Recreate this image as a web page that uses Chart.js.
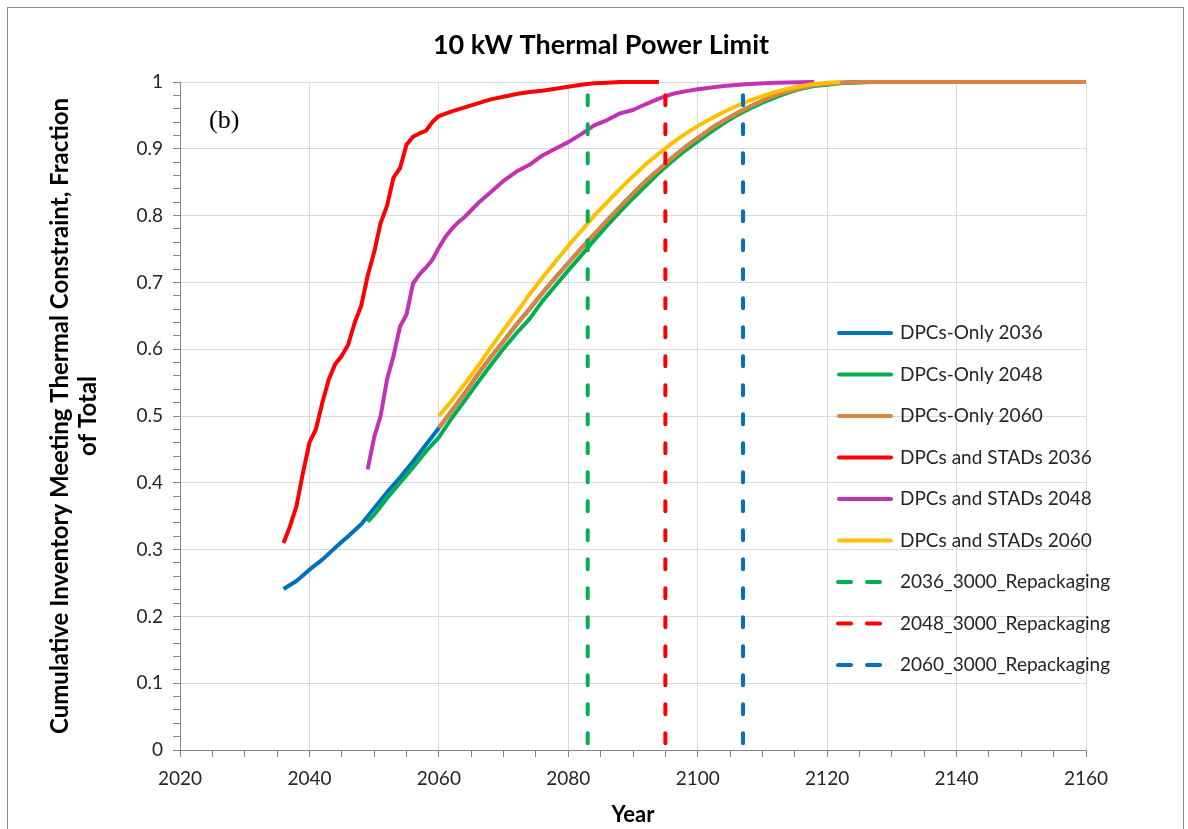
<!DOCTYPE html>
<html>
<head>
<meta charset="utf-8">
<script src="https://cdn.jsdelivr.net/npm/chart.js@4/dist/chart.umd.min.js"></script>
<style>
  body { margin: 0; background: #fff; }
  #wrap { position: relative; width: 1188px; height: 829px; overflow: hidden; }
  #frame { position: absolute; left: 7px; top: 7px; width: 1175px; height: 860px; border: 1.5px solid #8c8c8c; pointer-events: none; }
</style>
</head>
<body>
<div id="wrap"><canvas id="chart" width="1188" height="829"></canvas><div id="frame"></div></div>
<script>
const FONT = "Lato, 'Open Sans', sans-serif";
const chartTitle = "10 kW Thermal Power Limit";
const panelLabel = "(b)";

const seriesNames = [
  "DPCs-Only 2036",
  "DPCs-Only 2048",
  "DPCs-Only 2060",
  "DPCs and STADs 2036",
  "DPCs and STADs 2048",
  "DPCs and STADs 2060",
  "2036_3000_Repackaging",
  "2048_3000_Repackaging",
  "2060_3000_Repackaging"
];

// DPCs-Only 2036 (blue), runs under the 2060 curve after 2060
const dpcs2036Years = [2036, 2038, 2040, 2042, 2044, 2046, 2048, 2050, 2052, 2054, 2056, 2058, 2060,
  2062, 2064, 2066, 2068, 2070, 2072, 2074, 2076, 2078, 2080, 2082, 2084, 2086, 2088, 2090,
  2092, 2094, 2096, 2098, 2100, 2102, 2104, 2106, 2108, 2110, 2112, 2114, 2116, 2118, 2120, 2122, 2125];
const dpcs2036Values = [0.241, 0.253, 0.27, 0.285, 0.303, 0.32, 0.338, 0.362, 0.386, 0.408, 0.432, 0.457, 0.482,
  0.508, 0.534, 0.562, 0.588, 0.612, 0.637, 0.66, 0.684, 0.707, 0.729, 0.751, 0.772, 0.793, 0.813, 0.833,
  0.852, 0.869, 0.886, 0.902, 0.916, 0.93, 0.942, 0.953, 0.963, 0.972, 0.98, 0.986, 0.991, 0.995, 0.997, 0.999, 1];

// DPCs-Only 2048 (green)
const dpcs2048Years = [2049, 2050, 2052, 2054, 2056, 2058, 2060, 2062, 2064, 2066, 2068, 2070, 2072, 2074,
  2076, 2078, 2080, 2082, 2084, 2086, 2088, 2090, 2092, 2094, 2096, 2098, 2100, 2102, 2104, 2106,
  2108, 2110, 2112, 2114, 2116, 2118, 2120, 2122, 2127];
const dpcs2048Values = [0.342, 0.352, 0.377, 0.4, 0.423, 0.447, 0.468, 0.497, 0.523, 0.55, 0.576, 0.601, 0.624, 0.645,
  0.672, 0.695, 0.718, 0.74, 0.763, 0.785, 0.806, 0.826, 0.845, 0.864, 0.881, 0.897, 0.911, 0.925, 0.938, 0.95,
  0.96, 0.969, 0.977, 0.984, 0.99, 0.994, 0.996, 0.998, 1];

// DPCs-Only 2060 (orange)
const dpcs2060Years = [2060, 2062, 2064, 2066, 2068, 2070, 2072, 2074, 2076, 2078, 2080, 2082, 2084, 2086,
  2088, 2090, 2092, 2094, 2096, 2098, 2100, 2102, 2104, 2106, 2108, 2110, 2112, 2114, 2116, 2118,
  2120, 2122, 2125, 2160];
const dpcs2060Values = [0.482, 0.508, 0.534, 0.562, 0.588, 0.612, 0.637, 0.66, 0.684, 0.707, 0.729, 0.751, 0.772, 0.793,
  0.813, 0.833, 0.852, 0.869, 0.886, 0.902, 0.916, 0.93, 0.942, 0.953, 0.963, 0.972, 0.98, 0.986, 0.991, 0.995,
  0.997, 0.999, 1, 1];

// DPCs and STADs 2036 (red)
const stads2036Years = [2036, 2037, 2038, 2039, 2040, 2041, 2042, 2043, 2044, 2045, 2046, 2047, 2048, 2049,
  2050, 2051, 2052, 2053, 2054, 2055, 2056, 2057, 2058, 2059, 2060, 2062, 2064, 2066, 2068, 2070,
  2072, 2074, 2076, 2078, 2080, 2082, 2084, 2086, 2088, 2094];
const stads2036Values = [0.31, 0.335, 0.365, 0.415, 0.46, 0.48, 0.52, 0.555, 0.578, 0.59, 0.607, 0.64, 0.665, 0.71,
  0.745, 0.789, 0.815, 0.857, 0.871, 0.906, 0.918, 0.923, 0.927, 0.94, 0.949, 0.956, 0.962, 0.968, 0.974, 0.978,
  0.982, 0.985, 0.987, 0.99, 0.993, 0.996, 0.998, 0.999, 1, 1];

// DPCs and STADs 2048 (magenta)
const stads2048Years = [2049, 2050, 2051, 2052, 2053, 2054, 2055, 2056, 2057, 2058, 2059, 2060, 2061, 2062,
  2063, 2064, 2065, 2066, 2068, 2070, 2072, 2074, 2076, 2078, 2080, 2082, 2084, 2086, 2088, 2090,
  2092, 2094, 2096, 2098, 2100, 2104, 2108, 2112, 2118];
const stads2048Values = [0.42, 0.468, 0.5, 0.555, 0.59, 0.634, 0.652, 0.698, 0.712, 0.722, 0.734, 0.752, 0.768, 0.78,
  0.79, 0.798, 0.808, 0.818, 0.835, 0.852, 0.866, 0.876, 0.89, 0.9, 0.91, 0.922, 0.935, 0.943, 0.953, 0.958,
  0.967, 0.975, 0.982, 0.986, 0.989, 0.994, 0.997, 0.999, 1];

// DPCs and STADs 2060 (yellow)
const stads2060Years = [2060, 2062, 2064, 2066, 2068, 2070, 2072, 2074, 2076, 2078, 2080, 2082, 2084, 2086,
  2088, 2090, 2092, 2094, 2096, 2098, 2100, 2102, 2104, 2106, 2108, 2110, 2112, 2114, 2116, 2118, 2120, 2122];
const stads2060Values = [0.5, 0.523, 0.548, 0.574, 0.602, 0.629, 0.655, 0.682, 0.707, 0.731, 0.755, 0.777, 0.8, 0.82,
  0.84, 0.859, 0.877, 0.893, 0.908, 0.922, 0.934, 0.945, 0.955, 0.964, 0.972, 0.979, 0.985, 0.99, 0.994, 0.997, 0.999, 1];

// vertical repackaging markers
const repackYears = [2083, 2095, 2107];
const repackTop = 0.98;

const curveColors = ["#0070c0", "#00b050", "#dc843d", "#ff0000", "#c331b4", "#ffc000"];
const repackColors = ["#00b050", "#ff0000", "#0070c0"];
const GRID = "#d9d9d9";
const AXIS = "#868686";
const TEXT = "#262626";

function toPoints(xs, ys) {
  return xs.map((x, i) => ({ x: x, y: ys[i] }));
}

const curveData = [
  toPoints(dpcs2036Years, dpcs2036Values),
  toPoints(dpcs2048Years, dpcs2048Values),
  toPoints(dpcs2060Years, dpcs2060Values),
  toPoints(stads2036Years, stads2036Values),
  toPoints(stads2048Years, stads2048Values),
  toPoints(stads2060Years, stads2060Values)
];

const datasets = [];
curveData.forEach((pts, i) => {
  datasets.push({
    label: seriesNames[i],
    data: pts,
    borderColor: curveColors[i],
    borderWidth: 4,
    borderJoinStyle: "round",
    pointRadius: 0,
    tension: 0,
    clip: 6,
    order: 10 - i
  });
});
repackYears.forEach((yr, i) => {
  datasets.push({
    label: seriesNames[6 + i],
    data: [{ x: yr, y: repackTop }, { x: yr, y: 0 }],
    borderColor: repackColors[i],
    borderWidth: 4,
    borderDash: [10, 19],
    borderCapStyle: "round",
    pointRadius: 0,
    clip: 6,
    order: 0,
    dashed: true
  });
});

const overlay = {
  id: "overlay",
  afterDraw(chart) {
    const ctx = chart.ctx;
    ctx.save();
    ctx.fillStyle = "#000";
    ctx.textBaseline = "middle";
    ctx.textAlign = "center";
    ctx.font = "bold 27px " + FONT;
    ctx.fillText(chartTitle, 601, 45);
    ctx.textAlign = "left";
    ctx.font = "26px 'Liberation Serif', serif";
    ctx.fillText(panelLabel, 209, 121);

    // legend
    ctx.font = "19px " + FONT;
    ctx.lineWidth = 4;
    ctx.lineCap = "round";
    chart.data.datasets.forEach((ds, i) => {
      const y = 333 + i * 41.5;
      ctx.strokeStyle = ds.borderColor;
      ctx.setLineDash(ds.dashed ? [13, 16] : []);
      ctx.beginPath();
      ctx.moveTo(ds.dashed ? 838 : 839, y);
      ctx.lineTo(ds.dashed ? 880 : 891, y);
      ctx.stroke();
      ctx.fillStyle = TEXT;
      ctx.fillText(ds.label, 900, y);
    });
    ctx.restore();
  }
};

function isMajor(v, step) {
  return Math.abs(v / step - Math.round(v / step)) < 1e-6;
}

new Chart(document.getElementById("chart"), {
  type: "line",
  data: { datasets: datasets },
  plugins: [overlay],
  options: {
    responsive: false,
    animation: false,
    devicePixelRatio: 1,
    layout: { padding: { left: 0, right: 102, top: 82, bottom: 0 } },
    plugins: { legend: { display: false }, tooltip: { enabled: false } },
    scales: {
      x: {
        type: "linear",
        min: 2020,
        max: 2160,
        ticks: {
          stepSize: 5,
          autoSkip: false,
          maxRotation: 0,
          padding: 10,
          color: TEXT,
          font: { family: FONT, size: 19 },
          callback: (v) => (isMajor(v, 20) ? String(v) : "")
        },
        grid: {
          color: (c) => (c.tick && isMajor(c.tick.value, 20) ? GRID : "rgba(0,0,0,0)"),
          tickColor: AXIS,
          tickLength: 7,
          lineWidth: 1
        },
        border: { color: AXIS, width: 1 },
        title: {
          display: true,
          text: "Year",
          color: "#000",
          font: { family: FONT, size: 22, weight: "bold" },
          padding: { top: 0, bottom: 1 }
        },
        afterFit: (s) => { s.height = 79; }
      },
      y: {
        min: 0,
        max: 1,
        ticks: {
          stepSize: 0.02,
          autoSkip: false,
          padding: 10,
          color: TEXT,
          font: { family: FONT, size: 19 },
          callback: (v) => (isMajor(v, 0.1) ? String(Math.round(v * 10) / 10) : "")
        },
        grid: {
          color: (c) => (c.tick && isMajor(c.tick.value, 0.1) ? GRID : "rgba(0,0,0,0)"),
          tickColor: AXIS,
          tickLength: 7,
          lineWidth: 1
        },
        border: { color: AXIS, width: 1 },
        title: {
          display: true,
          text: ["Cumulative Inventory Meeting Thermal Constraint, Fraction", "of Total"],
          color: "#000",
          font: { family: FONT, size: 24, weight: "bold", lineHeight: "28px" },
          padding: { top: 46, bottom: 0 }
        },
        afterFit: (s) => { s.width = 180; }
      }
    }
  }
});
</script>
</body>
</html>
